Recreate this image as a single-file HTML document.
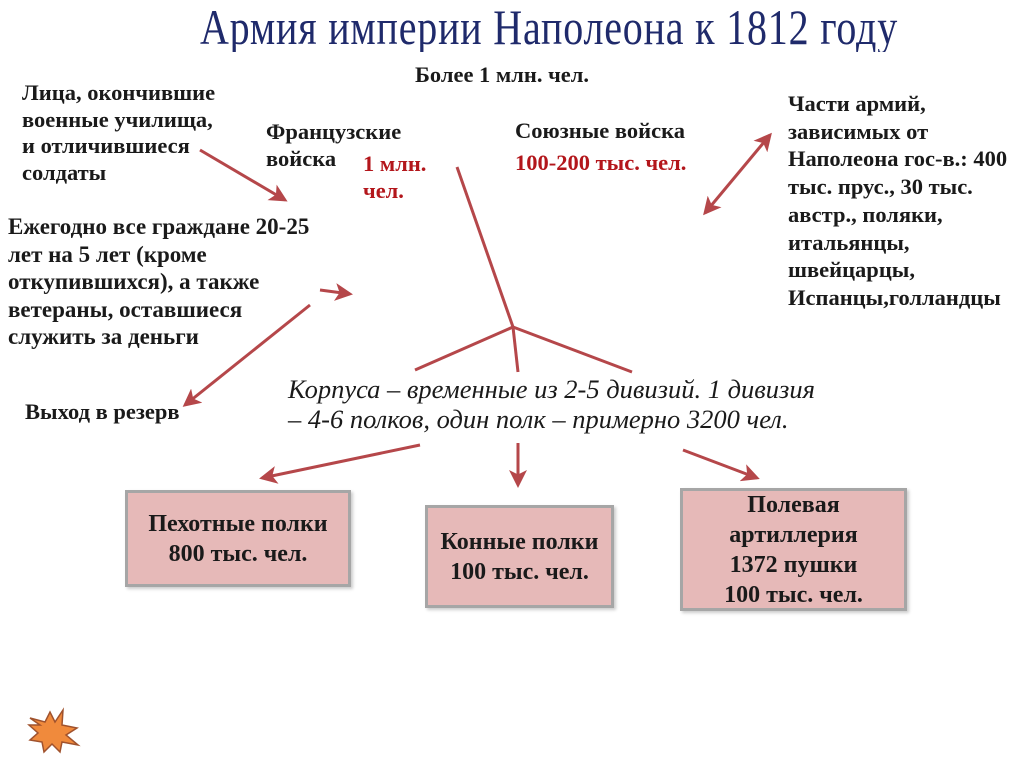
<!DOCTYPE html>
<html><head><meta charset="utf-8"><style>
body{margin:0;width:1024px;height:767px;background:#fff;position:relative;overflow:hidden;font-family:"Liberation Serif","Noto Serif CJK SC",serif;}
.t{position:absolute;font-weight:bold;color:#1a1a1a;white-space:nowrap}
.r{color:#b3161b}
.box{position:absolute;background:#e6b9b8;border:3px solid #a6a6a6;box-shadow:2px 2px 3px #ccc;display:flex;align-items:center;justify-content:center;text-align:center;font-weight:bold;font-size:24px;line-height:30px;color:#1a1a1a}
</style></head><body>
<div style="position:absolute;left:200px;top:4px;width:710px;height:48px;overflow:hidden">
<div style="position:absolute;left:0;top:-6px;font-size:50px;color:#1f2a6b;transform:scaleX(0.8);transform-origin:0 0;white-space:nowrap;letter-spacing:1px">Армия империи Наполеона к 1812 году</div>
</div>
<div class="t" style="left:415px;top:62px;font-size:22.5px;line-height:25px">Более 1 млн. чел.</div>
<div class="t" style="left:22px;top:80px;font-size:22.5px;line-height:26.5px">Лица, окончившие<br>военные училища,<br>и отличившиеся<br>солдаты</div>
<div class="t" style="left:266px;top:118px;font-size:22.5px;line-height:27px">Французские<br>войска</div>
<div class="t r" style="left:363px;top:150px;font-size:22.5px;line-height:27px">1 млн.<br>чел.</div>
<div class="t" style="left:515px;top:118px;font-size:22.5px;line-height:25px">Союзные войска</div>
<div class="t r" style="left:515px;top:150px;font-size:22.5px;line-height:25px">100-200 тыс. чел.</div>
<div class="t" style="left:788px;top:90px;font-size:22.5px;line-height:27.7px">Части армий,<br>зависимых от<br>Наполеона гос-в.: 400<br>тыс. прус., 30 тыс.<br>австр., поляки,<br>итальянцы,<br>швейцарцы,<br>Испанцы,голландцы</div>
<div class="t" style="left:8px;top:213px;font-size:23px;line-height:27.5px">Ежегодно все граждане 20-25<br>лет на 5 лет (кроме<br>откупившихся), а также<br>ветераны, оставшиеся<br>служить за деньги</div>
<div class="t" style="left:25px;top:399px;font-size:22.5px;line-height:25px">Выход в резерв</div>
<div class="t" style="left:288px;top:374px;font-size:26.5px;line-height:30px;font-style:italic;font-weight:normal">Корпуса – временные из 2-5 дивизий. 1 дивизия<br>– 4-6 полков, один полк – примерно 3200 чел.</div>
<div class="box" style="left:125px;top:490px;width:220px;height:91px">Пехотные полки<br>800 тыс. чел.</div>
<div class="box" style="left:425px;top:505px;width:183px;height:97px">Конные полки<br>100 тыс. чел.</div>
<div class="box" style="left:680px;top:488px;width:221px;height:117px">Полевая<br>артиллерия<br>1372 пушки<br>100 тыс. чел.</div>
<svg width="1024" height="767" style="position:absolute;left:0;top:0">
<defs><marker id="a" markerWidth="6" markerHeight="6" refX="5" refY="3" orient="auto" markerUnits="strokeWidth"><path d="M0,0 L6,3 L0,6 L1.5,3z" fill="#b5474a"/></marker>
<marker id="b" markerWidth="6" markerHeight="6" refX="1" refY="3" orient="auto" markerUnits="strokeWidth"><path d="M6,0 L0,3 L6,6 L4.5,3z" fill="#b5474a"/></marker></defs>
<g stroke="#b5474a" stroke-width="3" fill="none">
<line x1="200" y1="150" x2="285" y2="200" marker-end="url(#a)"/>
<line x1="320" y1="290" x2="350" y2="294" marker-end="url(#a)"/>
<line x1="310" y1="305" x2="185" y2="405" marker-end="url(#a)"/>
<line x1="770" y1="135" x2="705" y2="213" marker-start="url(#b)" marker-end="url(#a)"/>
<line x1="457" y1="167" x2="513" y2="327"/>
<line x1="513" y1="327" x2="415" y2="370"/>
<line x1="513" y1="327" x2="632" y2="372"/>
<line x1="513" y1="327" x2="518" y2="372"/>
<line x1="420" y1="445" x2="262" y2="478" marker-end="url(#a)"/>
<line x1="518" y1="443" x2="518" y2="485" marker-end="url(#a)"/>
<line x1="683" y1="450" x2="757" y2="478" marker-end="url(#a)"/>
</g>
<polygon points="30,718 45,722 50,712 55,722 63,710 62,725 77,728 66,735 78,745 62,742 60,752 52,744 44,752 42,742 30,740 38,733 29,725 40,725" fill="#f08a3c" stroke="#a0522d" stroke-width="1.5"/>
</svg>
</body></html>
